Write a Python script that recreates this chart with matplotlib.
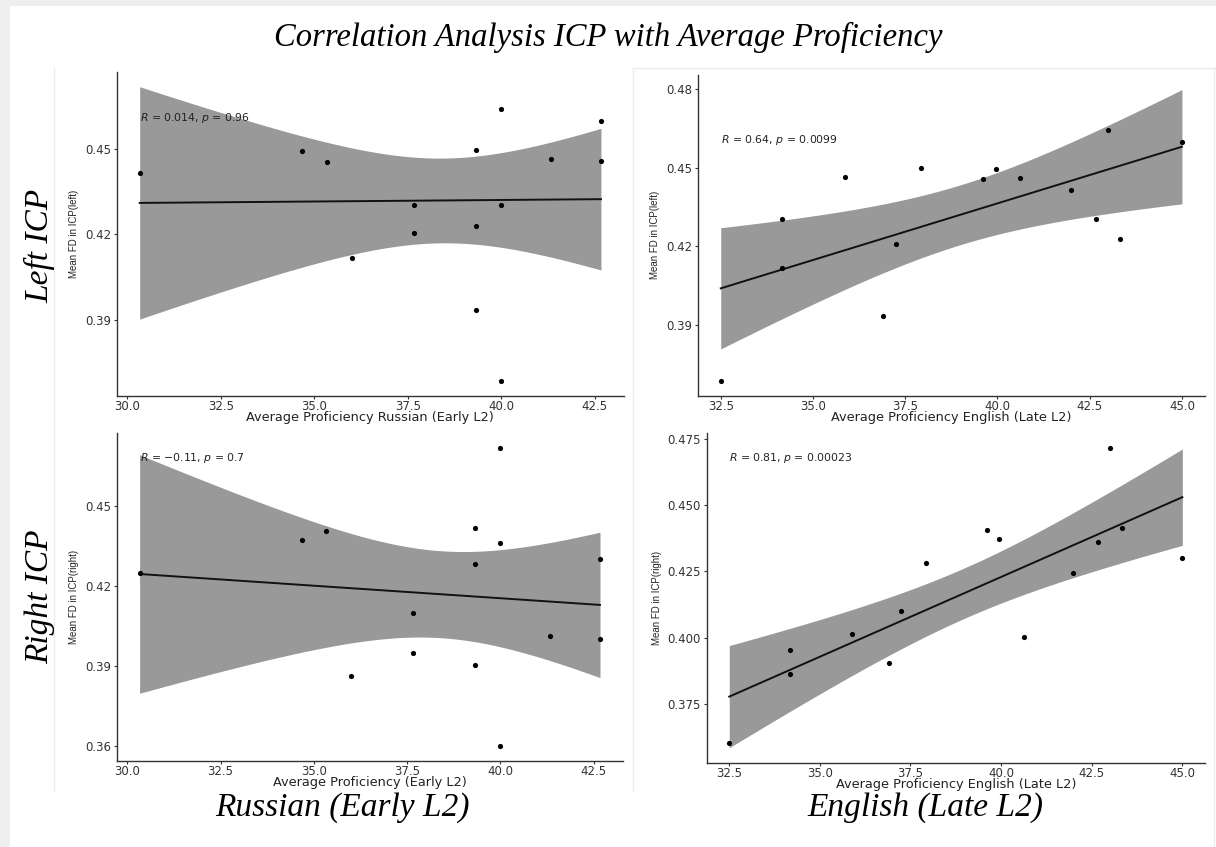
import numpy as np
import matplotlib
matplotlib.use("Agg")
import matplotlib.pyplot as plt
from matplotlib.ticker import MultipleLocator, FormatStrFormatter
from matplotlib.lines import Line2D
from matplotlib.patches import Rectangle

# ---- data -------------------------------------------------------------
russian_x = [30.33, 34.67, 35.33, 36.0, 37.67, 37.67, 39.33, 39.33, 39.33,
             40.0, 40.0, 40.0, 41.33, 42.67, 42.67]
left_icp_russian = [0.4414, 0.4493, 0.4453, 0.4116, 0.4302, 0.4204, 0.4495,
                    0.4229, 0.3933, 0.4642, 0.4302, 0.3684, 0.4464, 0.4597,
                    0.4459]
right_icp_russian = [0.4247, 0.4371, 0.4407, 0.3861, 0.4100, 0.3950, 0.4416,
                     0.4281, 0.3905, 0.4718, 0.4360, 0.3600, 0.4012, 0.4301,
                     0.4001]

english_x = [32.5, 34.17, 34.17, 35.88, 36.9, 37.25, 37.94, 39.62, 39.95,
             40.62, 41.98, 42.66, 43.0, 43.33, 45.0]
left_icp_english = [0.3688, 0.4303, 0.4117, 0.4465, 0.3936, 0.4208, 0.4497,
                    0.4455, 0.4495, 0.4460, 0.4416, 0.4303, 0.4643, 0.4230,
                    0.4597]
right_icp_english = [0.3600, 0.3951, 0.3861, 0.4014, 0.3904, 0.4100, 0.4282,
                     0.4408, 0.4371, 0.4001, 0.4245, 0.4360, 0.4717, 0.4414,
                     0.4302]

x_titles = ["Average Proficiency Russian (Early L2)",
            "Average Proficiency English (Late L2)",
            "Average Proficiency (Early L2)",
            "Average Proficiency English (Late L2)"]
y_titles = ["Mean FD in ICP(left)", "Mean FD in ICP(left)",
            "Mean FD in ICP(right)", "Mean FD in ICP(right)"]
r_labels = ["0.014", "0.64", "\u22120.11", "0.81"]
p_labels = ["0.96", "0.0099", "0.7", "0.00023"]
y_steps = [0.03, 0.03, 0.03, 0.025]
y_formats = ["%.2f", "%.2f", "%.2f", "%.3f"]

main_title = "Correlation Analysis ICP with Average Proficiency"
row_titles = ["Left ICP", "Right ICP"]
col_titles = ["Russian (Early L2)", "English (Late L2)"]

T_CRIT = 2.160  # two-sided 95% t quantile, 13 degrees of freedom

# ---- figure -----------------------------------------------------------
W, H = 1216, 847
fig = plt.figure(figsize=(W / 100, H / 100), dpi=100)
fig.patch.set_facecolor("white")


def px_axes(left, top, right, bottom):
    return fig.add_axes([left / W, 1 - bottom / H, (right - left) / W,
                         (bottom - top) / H])


def fig_line(x0, y0, x1, y1, color="#ececec", lw=1.0):
    fig.add_artist(Line2D([x0 / W, x1 / W], [1 - y0 / H, 1 - y1 / H],
                          transform=fig.transFigure, color=color, lw=lw))


# light frame around the figure and between the image blocks
fig.add_artist(Rectangle((0, 1 - 6 / H), 1, 6 / H, transform=fig.transFigure,
                         color="#eeeeee", lw=0))
fig.add_artist(Rectangle((0, 0), 10 / W, 1, transform=fig.transFigure,
                         color="#eeeeee", lw=0))
fig_line(54, 68, 54, 790)
fig_line(633, 68, 633, 790)
fig_line(633, 68, 1216, 68)
fig_line(1214, 68, 1214, 847)

boxes = [(116.6, 72, 624, 396), (697.7, 75, 1205, 395.7),
         (116.6, 433, 623, 760.7), (706.6, 433, 1205, 762.7)]
xs_data = [russian_x, english_x, russian_x, english_x]
ys_data = [left_icp_russian, left_icp_english, right_icp_russian,
           right_icp_english]

tick_color = "#333333"
for i, box in enumerate(boxes):
    ax = px_axes(*box)
    x = np.asarray(xs_data[i], float)
    y = np.asarray(ys_data[i], float)
    n = len(x)

    # linear fit with 95% confidence band
    slope, intercept = np.polyfit(x, y, 1)
    grid = np.linspace(x.min(), x.max(), 80)
    fit = intercept + slope * grid
    resid = y - (intercept + slope * x)
    s = np.sqrt(np.sum(resid ** 2) / (n - 2))
    sxx = np.sum((x - x.mean()) ** 2)
    se = s * np.sqrt(1 / n + (grid - x.mean()) ** 2 / sxx)
    ax.fill_between(grid, fit - T_CRIT * se, fit + T_CRIT * se,
                    color="#999999", lw=0, zorder=1)
    ax.plot(grid, fit, color="#111111", lw=1.4, zorder=2)
    ax.scatter(x, y, s=14, color="black", lw=0, zorder=3)

    ax.margins(0.05)
    ax.xaxis.set_major_locator(MultipleLocator(2.5))
    ax.xaxis.set_major_formatter(FormatStrFormatter("%.1f"))
    ax.yaxis.set_major_locator(MultipleLocator(y_steps[i]))
    ax.yaxis.set_major_formatter(FormatStrFormatter(y_formats[i]))

    for side in ("top", "right"):
        ax.spines[side].set_visible(False)
    for side in ("left", "bottom"):
        ax.spines[side].set_color("#333333")
        ax.spines[side].set_linewidth(1.0)
    ax.tick_params(length=2.5, width=0.8, pad=1.5, labelsize=8.5,
                   colors=tick_color, direction="out")
    ax.tick_params(axis="x", pad=0.5)

    ax.set_xlabel(x_titles[i], fontsize=9.3, color="#222222", labelpad=-1.5)
    ax.set_ylabel(y_titles[i], fontsize=7, color="#222222", labelpad=4,
                  family="Liberation Sans")

    label = (r"$\it{R}$ = " + r_labels[i] + ", " + r"$\it{p}$ = " +
             p_labels[i])
    ax.annotate(label, xy=(x.min(), y.max()), xytext=(0, -2),
                textcoords="offset points", ha="left", va="top",
                fontsize=7.8, color="#222222", zorder=4)

serif = dict(family="Liberation Serif", style="italic", color="black")
fig.text(608 / W, 1 - 37 / H, main_title, ha="center", va="center",
         fontsize=23.5, **serif)
fig.text(40 / W, 1 - 246 / H, row_titles[0], ha="center", va="center",
         rotation=90, fontsize=24, **serif)
fig.text(40 / W, 1 - 597 / H, row_titles[1], ha="center", va="center",
         rotation=90, fontsize=24, **serif)
fig.text(342 / W, 1 - 808 / H, col_titles[0], ha="center", va="center",
         fontsize=24, **serif)
fig.text(925 / W, 1 - 808 / H, col_titles[1], ha="center", va="center",
         fontsize=24, **serif)

fig.savefig("out.png", dpi=100, facecolor="white")
